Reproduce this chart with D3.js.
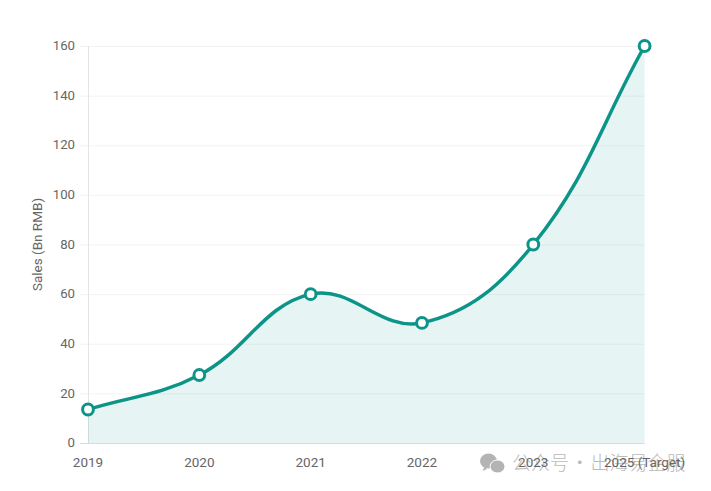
<!DOCTYPE html>
<html><head><meta charset="utf-8">
<script src="https://cdn.jsdelivr.net/npm/d3@7"></script>
<style>html,body{margin:0;padding:0;background:#fff}svg{display:block}</style>
</head><body><svg id="c" width="711" height="491"></svg>
<script>
const categories = ["2019","2020","2021","2022","2023","2025 (Target)"];
const sales = [13.5,27.4,60,48.4,80,160];
const yTicks = [0,20,40,60,80,100,120,140,160];
const yTitle = "Sales (Bn RMB)";
const watermark = "公众号 · 出海易企服";

const svg = d3.select("#c");
const font = "Roboto, sans-serif";
const x = d3.scalePoint().domain(categories).range([88,644.6]);
const y = d3.scaleLinear().domain([0,160]).range([443,46]);
const pts = categories.map((c,i)=>({c,v:sales[i]}));

// chord-weighted spline curve factory for d3.line / d3.area
function splineCurve(context){
  let P=[];
  const T=0.4;
  return {
    areaStart(){this._a=0;},
    areaEnd(){this._a=NaN;},
    lineStart(){P=[];},
    lineEnd(){
      const n=P.length;
      const c=P.map((p,i)=>{
        const a=P[Math.max(i-1,0)], b=P[Math.min(i+1,n-1)];
        const d1=Math.hypot(p[0]-a[0],p[1]-a[1]), d2=Math.hypot(b[0]-p[0],b[1]-p[1]);
        const s=(d1+d2)||1, f1=T*d1/s, f2=T*d2/s;
        return {p:[p[0]-f1*(b[0]-a[0]),p[1]-f1*(b[1]-a[1])], n:[p[0]+f2*(b[0]-a[0]),p[1]+f2*(b[1]-a[1])]};
      });
      P.forEach((p,i)=>{
        if(i===0){ if(this._a===1) context.lineTo(p[0],p[1]); else context.moveTo(p[0],p[1]); }
        else context.bezierCurveTo(c[i-1].n[0],c[i-1].n[1],c[i].p[0],c[i].p[1],p[0],p[1]);
      });
      if(this._a===0){ this._a=1; } else if(this._a===1){ context.closePath(); }
    },
    point(px,py){P.push([+px,+py]);}
  };
}

// grid
svg.append("g").selectAll("line").data(yTicks).join("line")
  .attr("x1",80).attr("x2",644.6)
  .attr("y1",d=>y(d)+.5).attr("y2",d=>y(d)+.5)
  .attr("stroke",d=>d===0?"#d5dcdc":"#f3f3f3").attr("stroke-width",1);
svg.append("line").attr("x1",88.5).attr("x2",88.5).attr("y1",46).attr("y2",443).attr("stroke","#e4e4e4");

// area + line
svg.append("path").datum(pts)
  .attr("d",d3.area().x(d=>x(d.c)).y0(y(0)).y1(d=>y(d.v)).curve(splineCurve))
  .attr("fill","rgba(13,148,136,0.1)");
svg.append("path").datum(pts)
  .attr("d",d3.line().x(d=>x(d.c)).y(d=>y(d.v)).curve(splineCurve))
  .attr("fill","none").attr("stroke","#0d9488").attr("stroke-width",3.5);

// watermark (beneath the axis labels)
const wm = svg.append("g");
wm.append("ellipse").attr("cx",488.5).attr("cy",461).attr("rx",8.5).attr("ry",7.5).attr("fill","#b4b4b4");
wm.append("path").attr("d","M484 467l-1 4 4-2z").attr("fill","#b4b4b4");
wm.append("ellipse").attr("cx",497.5).attr("cy",466.5).attr("rx",7.5).attr("ry",6.5).attr("fill","#b4b4b4").attr("stroke","#fff").attr("stroke-width",1);
wm.append("text").attr("x",512).attr("y",470).attr("font-family","'Noto Sans CJK SC'").attr("font-size",19).attr("font-weight",300).attr("word-spacing",-3).attr("fill","#bababa").text(watermark);

// points
svg.append("g").selectAll("circle").data(pts).join("circle")
  .attr("cx",d=>x(d.c)).attr("cy",d=>y(d.v)).attr("r",5.4)
  .attr("fill","#fff").attr("stroke","#0d9488").attr("stroke-width",3);

// labels
svg.append("g").selectAll("text").data(yTicks).join("text")
  .attr("x",75).attr("y",d=>y(d)+4.2).attr("text-anchor","end")
  .attr("font-family",font).attr("font-size",13.2).attr("fill","#666").text(d=>d);
svg.append("g").selectAll("text").data(categories).join("text")
  .attr("x",d=>x(d)).attr("y",467).attr("text-anchor","middle")
  .attr("font-family",font).attr("font-size",13.5).attr("fill","#666").text(d=>d);
svg.append("text").attr("transform","translate(42,244.5) rotate(-90)").attr("text-anchor","middle")
  .attr("font-family",font).attr("font-size",13.5).attr("fill","#666").text(yTitle);
</script></body></html>
